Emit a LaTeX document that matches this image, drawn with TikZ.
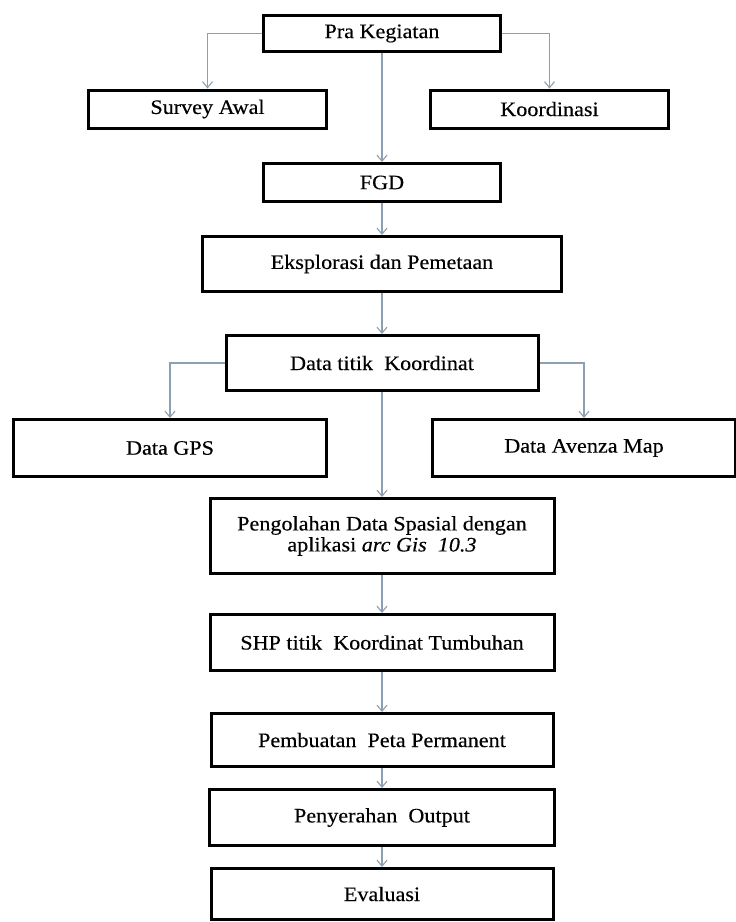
\documentclass[tikz,border=0pt]{standalone}
\usepackage{fontspec}
\setmainfont{Liberation Serif}[FakeStretch=1.08, FakeBold=0.3]
\usetikzlibrary{arrows.meta, positioning}
\definecolor{flowgray}{RGB}{140,160,178}
\tikzset{
	stepbox/.style={draw=black, line width=3pt, fill=white, inner sep=0pt,
		align=center, font=\fontsize{20.5}{21}\selectfont}
}
\tikzset{
	flowarrow/.style={draw=flowgray, line width=1.1pt,
		-{Straight Barb[length=6pt,width=10pt]}}
}

\begin{document}
\begin{tikzpicture}[x=1pt, y=-1pt]
      \useasboundingbox (0,0) rectangle (736,922);
      % top row
      \node[stepbox, minimum width=237pt, minimum height=36pt] (pra) at (382,33.5) {Pra Kegiatan};
      \node[stepbox, minimum width=238pt, minimum height=38pt] (survey) at (207.5,109) {Survey Awal};
      \node[stepbox, minimum width=238pt, minimum height=38pt] (koord) at (549.5,109) {Koordinasi};
      % main column
      \node[stepbox, minimum width=237pt, minimum height=38pt] (fgd) at (382,182.5) {FGD};
      \node[stepbox, minimum width=359pt, minimum height=55pt] (eksp) at (382,264) {Eksplorasi dan Pemetaan};
      \node[stepbox, minimum width=312pt, minimum height=55pt] (titik) at (382,363) {Data titik\ \ Koordinat};
      % data sources
      \node[stepbox, minimum width=313pt, minimum height=57pt] (gps) at (170,448) {Data GPS};
      \node[stepbox, minimum width=303pt, minimum height=57pt] (avenza) at (584,448) {Data Avenza Map};
      % processing and output
      \node[stepbox, minimum width=344pt, minimum height=75pt] (olah) at (382,536)
        {Pengolahan Data Spasial dengan\\aplikasi \textit{arc Gis\ \ 10.3}};
      \node[stepbox, minimum width=344pt, minimum height=56pt] (shp) at (382,642.5) {SHP titik\ \ Koordinat Tumbuhan};
      \node[stepbox, minimum width=342pt, minimum height=53pt] (peta) at (382,740) {Pembuatan\ \ Peta Permanent};
      \node[stepbox, minimum width=345pt, minimum height=56pt] (serah) at (382,817.5) {Penyerahan\ \ Output};
      \node[stepbox, minimum width=342pt, minimum height=51pt] (eval) at (382,894) {Evaluasi};
      % connectors
      \draw[flowarrow] (pra.west) -| (survey.north);
      \draw[flowarrow] (pra.east) -| (koord.north);
      \draw[flowarrow] (pra) -- (fgd);
      \draw[flowarrow] (fgd) -- (eksp);
      \draw[flowarrow] (eksp) -- (titik);
      \draw[flowarrow] (titik.west) -| (gps.north);
      \draw[flowarrow] (titik.east) -| (avenza.north);
      \draw[flowarrow] (titik) -- (olah);
      \draw[flowarrow] (olah) -- (shp);
      \draw[flowarrow] (shp) -- (peta);
      \draw[flowarrow] (peta) -- (serah);
      \draw[flowarrow] (serah) -- (eval);
    \end{tikzpicture}
\end{document}
